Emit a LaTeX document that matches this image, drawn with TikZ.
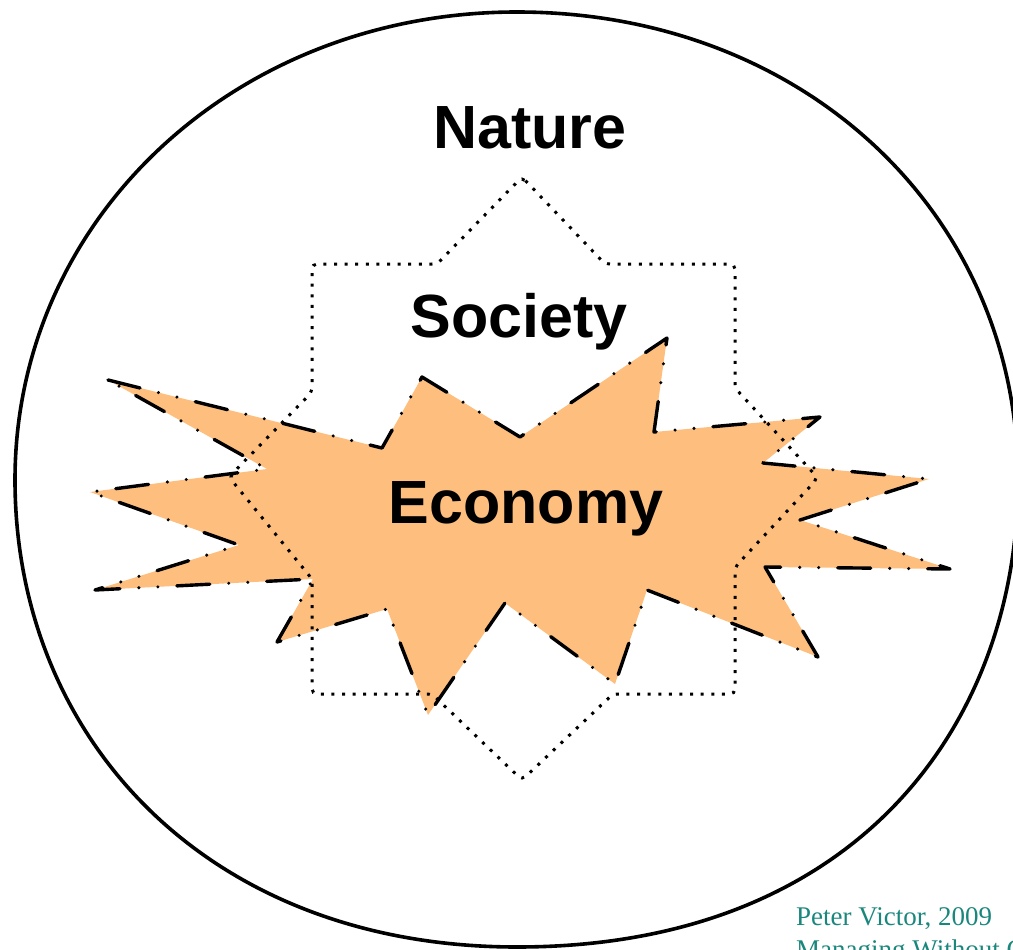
\documentclass[tikz,border=0pt]{standalone}
\usepackage{fontspec}
\setmainfont{Liberation Serif}
\newfontfamily\labelfont{Liberation Sans}
\definecolor{econfill}{RGB}{253,190,126}
\definecolor{citeteal}{RGB}{26,135,125}
\tikzset{
  naturering/.style={line width=3.6pt, draw=black},
  societyline/.style={line width=3pt, draw=black, dash pattern=on 3pt off 7.6pt, rounded corners=5pt},
  econline/.style={line width=3.4pt, draw=black, line cap=round, line join=round, dash pattern=on 33pt off 19pt on 0pt off 19pt on 0pt off 19pt},
  econarea/.style={fill=econfill},
  bigword/.style={font=\labelfont\bfseries\fontsize{61}{70}\selectfont, inner sep=0pt, anchor=base},
  citetext/.style={font=\fontsize{27}{32}\selectfont, text=citeteal, inner sep=0pt, anchor=base west}
}
\begin{document}
\begin{tikzpicture}[x=1pt,y=-1pt]
\useasboundingbox (0,0) rectangle (1013,950);
\clip (0,0) rectangle (1013,950);
% Nature ring
\coordinate (ringtop) at (517,12);
\coordinate (ringright) at (1018,480);
\coordinate (ringbottom) at (517,947);
\coordinate (ringleft) at (15,480);
\draw[naturering] (ringtop)
  .. controls (803,12) and (1018,213) .. (ringright)
  .. controls (1018,723) and (858,947) .. (ringbottom)
  .. controls (206,947) and (15,737) .. (ringleft)
  .. controls (15,218) and (236,12) .. (ringtop) -- cycle;
% Economy fill
\fill[econarea] (108,380) -- (382,448) -- (422,377) -- (520,437) -- (667,338)
 -- (654,432) -- (820,417) -- (763,463) -- (929,479) -- (800,520)
 -- (950,569) -- (765,567) -- (818,657) -- (647,590) -- (615,684)
 -- (505,603) -- (428,715) -- (387,609) -- (277,642) -- (313,579)
 -- (95,590) -- (239,545) -- (90,492) -- (267,469) -- cycle;
% Society shape
\draw[societyline] (522,177) -- (605,264) -- (735,264) -- (735,388) -- (818,478)
 -- (735,567) -- (735,694) -- (613,694) -- (522,780) -- (432,694)
 -- (312,694) -- (312,579) -- (229,477) -- (312,392) -- (312,264)
 -- (437,264) -- cycle;
% Economy outline
\draw[econline] (108,380) -- (382,448) -- (422,377) -- (520,437) -- (667,338)
 -- (654,432) -- (820,417) -- (763,463) -- (929,479) -- (800,520)
 -- (950,569) -- (765,567) -- (818,657) -- (647,590) -- (615,684)
 -- (505,603) -- (428,715) -- (387,609) -- (277,642) -- (313,579)
 -- (95,590) -- (239,545) -- (90,492) -- (267,469) -- cycle;
% Labels
\node[bigword] (nature) at (530,148) {Nature};
\node[bigword] (society) at (519,337) {Society};
\node[bigword] (economy) at (526,523) {Economy};
\node[citetext] (cite1) at (796,925) {Peter Victor, 2009};
\node[citetext] (cite2) at (796,958) {Managing Without Growth};
\end{tikzpicture}
\end{document}
